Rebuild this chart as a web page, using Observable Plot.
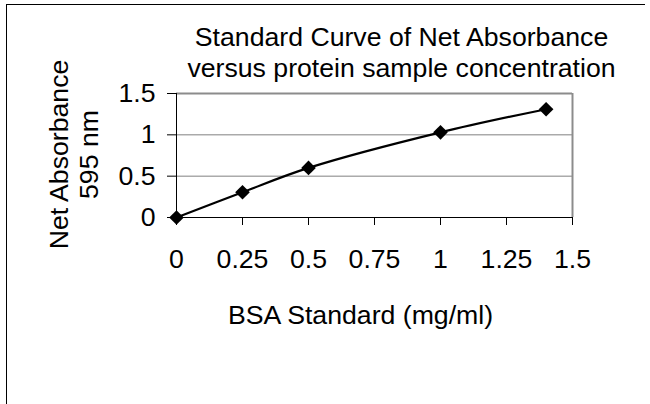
<!DOCTYPE html>
<html>
<head>
<meta charset="utf-8">
<script src="https://cdn.jsdelivr.net/npm/d3@7"></script>
<script src="https://cdn.jsdelivr.net/npm/@observablehq/plot@0.6"></script>
<style>
  html, body { margin: 0; padding: 0; background: #fff; }
  #wrap { position: relative; width: 650px; height: 404px; overflow: hidden; font-family: "Liberation Sans", Arial, sans-serif; }
  #border { position: absolute; left: 6px; top: 4px; width: 639px; height: 410px; border-top: 1px solid #000; border-left: 1px solid #000; box-sizing: border-box; }
  #chart { position: absolute; left: 0; top: 0; }
</style>
</head>
<body>
<div id="wrap"><div id="border"></div><div id="chart"></div></div>
<script>
// Data
const concentration = [0, 0.25, 0.5, 1, 1.4];          // BSA Standard (mg/ml)
const absorbance = [0, 0.305, 0.60, 1.03, 1.31];        // Net Absorbance 595 nm
const xTicks = [0, 0.25, 0.5, 0.75, 1, 1.25, 1.5];
const xTickLabels = ["0", "0.25", "0.5", "0.75", "1", "1.25", "1.5"];
const yTicks = [0, 0.5, 1, 1.5];
const yTickLabels = ["0", "0.5", "1", "1.5"];
const gridValues = [0.5, 1];
const titleText = "Standard Curve of Net Absorbance\nversus protein sample concentration";
const xTitle = "BSA Standard (mg/ml)";
const yTitle = "Net Absorbance\n595 nm";

const data = concentration.map((c, i) => ({x: c, y: absorbance[i]}));

const chart = Plot.plot({
  width: 650,
  height: 404,
  marginLeft: 176,
  marginRight: 78,
  marginTop: 93,
  marginBottom: 187,
  style: {fontFamily: "'Liberation Sans', Arial, sans-serif", fontSize: "26.67px", color: "#000", background: "transparent", overflow: "visible"},
  x: {domain: [0, 1.5]},
  y: {domain: [0, 1.5]},
  marks: [
    Plot.ruleY(gridValues, {stroke: "#808080", strokeWidth: 1}),
    Plot.ruleY([1.5], {stroke: "#8c8c8c", strokeWidth: 2}),
    Plot.ruleX([1.5], {stroke: "#8c8c8c", strokeWidth: 2}),
    Plot.ruleX([0], {stroke: "#000", strokeWidth: 1}),
    Plot.ruleY([0], {stroke: "#000", strokeWidth: 1}),
    Plot.axisX({ticks: xTicks, tickFormat: (d) => xTickLabels[xTicks.indexOf(d)], tickSize: 8, tickPadding: 24, label: null, stroke: "#000"}),
    Plot.axisY({ticks: yTicks, tickFormat: (d) => yTickLabels[yTicks.indexOf(d)], tickSize: 9, tickPadding: 12, label: null, stroke: "#000"}),
    Plot.line(data, {x: "x", y: "y", stroke: "#000", strokeWidth: 2.2, curve: "catmull-rom"}),
    Plot.dot(data, {x: "x", y: "y", symbol: "diamond2", r: 6.6, fill: "#000", stroke: "none"}),
    Plot.text([titleText], {frameAnchor: "top", lineAnchor: "top", textAnchor: "middle", dx: 27, dy: -69, lineHeight: 1.15, fill: "#000"}),
    Plot.text([xTitle], {frameAnchor: "bottom", lineAnchor: "top", textAnchor: "middle", dx: -14, dy: 88, fill: "#000"}),
    Plot.text([yTitle], {frameAnchor: "left", lineAnchor: "middle", textAnchor: "middle", rotate: -90, dx: -103, dy: -1, lineHeight: 1.1, fill: "#000"})
  ]
});
document.getElementById("chart").appendChild(chart);
</script>
</body>
</html>
